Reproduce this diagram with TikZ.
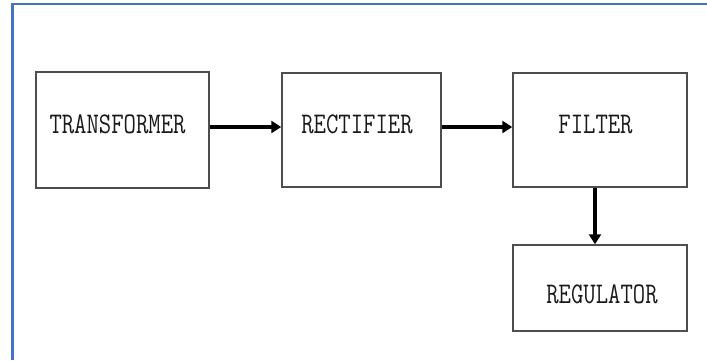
\documentclass[tikz,border=0pt]{standalone}
\usepackage{fontspec}
\usetikzlibrary{arrows.meta}
\definecolor{frameblue}{HTML}{4472C4}
\definecolor{boxline}{HTML}{4D4D4D}
\newcommand{\tallcaps}[1]{\scalebox{1}[1.25]{#1}}
\tikzset{
  stage/.style={draw=boxline, line width=1.5pt, fill=white},
  lbl/.style={inner sep=0pt, anchor=base, text=black!90, font=\ttfamily\fontsize{24}{24}\selectfont},
  flow/.style={line width=3.4pt, -{Triangle[length=10pt,width=12pt]}}
}
\begin{document}
\begin{tikzpicture}[x=1pt,y=-1pt]
\useasboundingbox (0,0) rectangle (707,360);
% outer frame (top and left edges)
\draw[frameblue, line width=2.5pt] (707,4) -- (12.5,4) -- (12.5,360);
% stage boxes
\node[stage, minimum width=173pt, minimum height=116pt] (tr) at (122.5,130) {};
\node[stage, minimum width=159pt, minimum height=114pt] (re) at (361.5,130) {};
\node[stage, minimum width=174pt, minimum height=114pt] (fi) at (600,130) {};
\node[stage, minimum width=174pt, minimum height=86pt] (rg) at (600,288) {};
% labels
\node[lbl] (trl) at (117.5,133.5) {\tallcaps{TRANSFORMER}};
\node[lbl] (rel) at (357,133.5) {\tallcaps{RECTIFIER}};
\node[lbl] (fil) at (595.5,133.5) {\tallcaps{FILTER}};
\node[lbl] (rgl) at (602,303.5) {\tallcaps{REGULATOR}};
% signal flow
\draw[flow] (tr.east |- 0,127) -- (re.west |- 0,127);
\draw[flow] (re.east |- 0,127) -- (fi.west |- 0,127);
\draw[flow] (fi.south -| 595,0) -- (rg.north -| 595,0);
\end{tikzpicture}
\end{document}
